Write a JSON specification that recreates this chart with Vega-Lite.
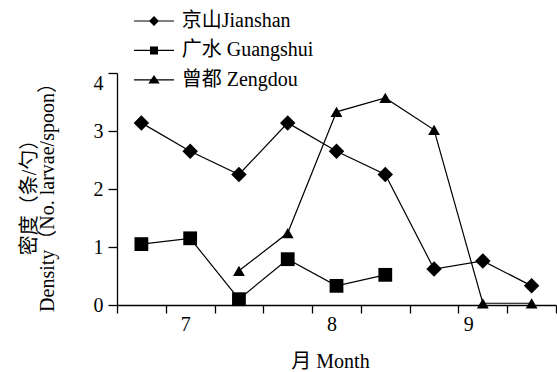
{
  "$schema": "https://vega.github.io/schema/vega-lite/v6.json",
  "width": 439,
  "height": 232,
  "autosize": "none",
  "padding": {"left": 117, "top": 73, "right": 1, "bottom": 67},
  "config": {
    "font": "Liberation Serif, Noto Sans CJK SC",
    "view": {"stroke": null},
    "axis": {
      "grid": false,
      "domainColor": "black",
      "domainWidth": 1.3,
      "tickColor": "black",
      "tickWidth": 1.3,
      "labelColor": "black",
      "titleColor": "black",
      "labelFont": "Liberation Serif, Noto Sans CJK SC",
      "titleFont": "Liberation Serif, Noto Sans CJK SC",
      "labelFontSize": 20,
      "titleFontSize": 20,
      "titleFontWeight": "normal"
    },
    "legend": {
      "labelFont": "Liberation Serif, Noto Sans CJK SC",
      "labelFontSize": 20,
      "labelColor": "black"
    }
  },
  "data": {
    "values": [
      {"site": "京山Jianshan", "t": 0.5, "v": 3.14},
      {"site": "京山Jianshan", "t": 1.5, "v": 2.65},
      {"site": "京山Jianshan", "t": 2.5, "v": 2.25},
      {"site": "京山Jianshan", "t": 3.5, "v": 3.14},
      {"site": "京山Jianshan", "t": 4.5, "v": 2.65},
      {"site": "京山Jianshan", "t": 5.5, "v": 2.25},
      {"site": "京山Jianshan", "t": 6.5, "v": 0.62},
      {"site": "京山Jianshan", "t": 7.5, "v": 0.76},
      {"site": "京山Jianshan", "t": 8.5, "v": 0.33},
      {"site": "广水 Guangshui", "t": 0.5, "v": 1.05},
      {"site": "广水 Guangshui", "t": 1.5, "v": 1.15},
      {"site": "广水 Guangshui", "t": 2.5, "v": 0.1},
      {"site": "广水 Guangshui", "t": 3.5, "v": 0.79},
      {"site": "广水 Guangshui", "t": 4.5, "v": 0.33},
      {"site": "广水 Guangshui", "t": 5.5, "v": 0.52},
      {"site": "曾都 Zengdou", "t": 2.5, "v": 0.59},
      {"site": "曾都 Zengdou", "t": 3.5, "v": 1.24},
      {"site": "曾都 Zengdou", "t": 4.5, "v": 3.33},
      {"site": "曾都 Zengdou", "t": 5.5, "v": 3.57},
      {"site": "曾都 Zengdou", "t": 6.5, "v": 3.02},
      {"site": "曾都 Zengdou", "t": 7.5, "v": 0.03},
      {"site": "曾都 Zengdou", "t": 8.5, "v": 0.03}
    ]
  },
  "encoding": {
    "x": {
      "field": "t",
      "type": "quantitative",
      "scale": {"domain": [0, 9], "nice": false, "zero": false},
      "axis": {
        "title": "月 Month",
        "values": [0, 1, 2, 3, 4, 5, 6, 7, 8, 9, 1.4, 4.4, 7.2],
        "labelExpr": "datum.value == 1.4 ? '7' : datum.value == 4.4 ? '8' : datum.value == 7.2 ? '9' : ''",
        "tickColor": {"condition": {"test": "datum.value % 1 != 0", "value": "transparent"}, "value": "black"},
        "tickSize": 8,
        "labelPadding": 1,
        "labelOverlap": false,
        "labelFlush": false,
        "titleX": 213,
        "titleY": 62,
        "titleBaseline": "alphabetic"
      }
    },
    "y": {
      "field": "v",
      "type": "quantitative",
      "scale": {"domain": [0, 4], "nice": false},
      "axis": {
        "title": ["　　密度（条/勺）", "Density（No. larvae/spoon）"],
        "values": [0, 1, 2, 3, 4],
        "tickSize": 9,
        "labelPadding": 5,
        "labelFlush": false,
        "labelBaseline": {"condition": {"test": "datum.value == 4", "value": "top"}, "value": "middle"},
        "titleAngle": 270,
        "titleAlign": "center",
        "titleBaseline": "top",
        "titleLineHeight": 18,
        "titleX": -98,
        "titleY": 119
      }
    }
  },
  "layer": [
    {
      "mark": {"type": "line", "color": "black", "strokeWidth": 1.2},
      "encoding": {"detail": {"field": "site"}}
    },
    {
      "mark": {"type": "point", "filled": true, "color": "black", "opacity": 1},
      "encoding": {
        "shape": {
          "field": "site",
          "scale": {"domain": ["京山Jianshan", "广水 Guangshui", "曾都 Zengdou"], "range": ["diamond", "square", "triangle-up"]},
          "legend": null
        },
        "size": {
          "field": "site",
          "scale": {"domain": ["京山Jianshan", "广水 Guangshui", "曾都 Zengdou"], "range": [240, 140, 180]},
          "legend": null
        }
      }
    },
    {
      "mark": {"type": "point", "filled": true, "color": "black", "opacity": 0},
      "encoding": {
        "shape": {
          "field": "site",
          "scale": {
            "domain": ["京山Jianshan", "广水 Guangshui", "曾都 Zengdou"],
            "range": [
              "M-4,-0.12L4,-0.12L4,0.12L-4,0.12ZM0,-1L1,0L0,1L-1,0Z",
              "M-4,-0.12L4,-0.12L4,0.12L-4,0.12ZM-0.8,-0.8L0.8,-0.8L0.8,0.8L-0.8,0.8Z",
              "M-4,-0.12L4,-0.12L4,0.12L-4,0.12ZM0,-0.95L1.15,0.75L-1.15,0.75Z"
            ]
          },
          "legend": {
            "title": null,
            "orient": "none",
            "legendX": 27,
            "legendY": -62,
            "padding": 0,
            "offset": 0,
            "symbolSize": 100,
            "symbolOpacity": 1,
            "labelOffset": 17.7,
            "rowPadding": 9.4,
            "labelLimit": 300,
            "encode": {
              "symbols": {
                "update": {
                  "fill": {"value": "black"},
                  "stroke": {"value": "black"},
                  "strokeWidth": {"value": 0.3},
                  "opacity": {"value": 1}
                }
              }
            }
          }
        }
      }
    }
  ],
  "resolve": {"scale": {"shape": "independent", "size": "independent"}}
}
